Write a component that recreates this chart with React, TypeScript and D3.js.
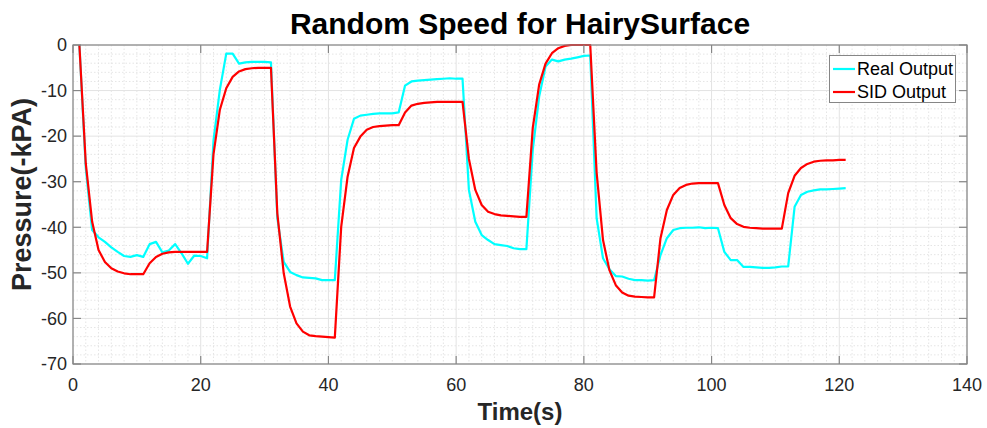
import React from "react";
import * as d3 from "d3";

const title = "Random Speed for HairySurface";
const xLabel = "Time(s)";
const yLabel = "Pressure(-kPA)";
const seriesNames = ["Real Output", "SID Output"];
const seriesColors = ["#00FFFF", "#FF0000"];
const xTicks = [0, 20, 40, 60, 80, 100, 120, 140];
const yTicks = [0, -10, -20, -30, -40, -50, -60, -70];
const startTime = 1;

const realOutput = [
  0, -27, -40.6, -42.2, -43.2, -44.4, -45.4, -46.3, -46.5, -46.1,
  -46.5, -43.7, -43.2, -45.5, -45.1, -43.7, -45.7, -48.0, -46.2, -46.3,
  -46.8, -21, -9.8, -1.9, -1.9, -4.1, -3.8, -3.7, -3.7, -3.7,
  -3.8, -38, -47.6, -49.8, -50.5, -51.0, -51.1, -51.2, -51.6, -51.6,
  -51.6, -29.6, -20.8, -16.2, -15.5, -15.3, -15.1, -15.0, -15.0, -15.0,
  -14.8, -8.9, -8.0, -7.8, -7.7, -7.6, -7.5, -7.4, -7.3, -7.4,
  -7.4, -31.8, -38.8, -41.7, -42.8, -43.7, -43.9, -44.1, -44.6, -44.8,
  -44.8, -23.0, -11.3, -4.7, -3.2, -3.6, -3.2, -3.0, -2.7, -2.4,
  -2.3, -38, -46.8, -49.2, -50.7, -50.8, -51.3, -51.6, -51.6, -51.7,
  -51.6, -46.1, -42.4, -40.6, -40.2, -40.1, -40.1, -40.0, -40.2, -40.1,
  -40.2, -45.4, -47.2, -47.2, -48.7, -48.7, -48.8, -48.9, -48.9, -48.8,
  -48.6, -48.6, -35.5, -32.9, -32.2, -31.9, -31.7, -31.7, -31.6, -31.5,
  -31.4,
];

const sidOutput = [
  0, -26, -38.8, -45, -47.6, -49.0, -49.7, -50.1, -50.3, -50.3,
  -50.3, -47.9, -46.5, -45.8, -45.5, -45.4, -45.4, -45.4, -45.4, -45.4,
  -45.4, -24, -14.2, -9.5, -7.0, -5.8, -5.3, -5.1, -5.0, -5.0,
  -5.0, -37, -50.1, -57.4, -61.1, -62.9, -63.7, -63.9, -64.0, -64.1,
  -64.2, -39.9, -28.9, -22.6, -20.1, -18.6, -18.0, -17.8, -17.7, -17.6,
  -17.6, -14.8, -13.3, -12.9, -12.7, -12.6, -12.5, -12.5, -12.5, -12.5,
  -12.5, -25, -31.8, -35.1, -36.6, -37.1, -37.4, -37.5, -37.6, -37.7,
  -37.7, -18.2, -8.7, -4.1, -1.8, -0.7, -0.2, 0, 0, 0,
  0, -28, -42.8, -49.4, -52.7, -54.3, -55.0, -55.2, -55.3, -55.4,
  -55.4, -42.4, -36.2, -32.9, -31.4, -30.7, -30.4, -30.3, -30.3, -30.3,
  -30.3, -35.1, -38.0, -39.3, -39.9, -40.1, -40.2, -40.3, -40.3, -40.3,
  -40.3, -32.5, -28.7, -27.0, -26.1, -25.6, -25.4, -25.3, -25.3, -25.2,
  -25.2,
];

const W = 987;
const H = 428;
const M = { left: 73, right: 967, top: 45, bottom: 364 };

export default function App() {
  const x = d3.scaleLinear().domain([0, 140]).range([M.left, M.right]);
  const y = d3.scaleLinear().domain([-70, 0]).range([M.bottom, M.top]);
  const line = d3
    .line<number>()
    .x((_, i) => x(startTime + i))
    .y((d) => y(d));

  const xMinor = d3.range(0, 141, 2).filter((v) => v % 20 !== 0);
  const yMinor = d3.range(-70, 1, 2).filter((v) => v % 10 !== 0);
  const font = "'Liberation Sans', Arial, sans-serif";
  const axisColor = "#868686";
  const tickLen = 8;

  return (
    <svg
      width={W}
      height={H}
      style={{ position: "absolute", left: 0, top: 0, background: "#fff" }}
      fontFamily={font}
    >
      <rect x={0} y={0} width={W} height={H} fill="#fff" />
      {/* minor grid */}
      <g stroke="#dedede" strokeWidth={0.8} strokeDasharray="1.5,2">
        {xMinor.map((v) => (
          <line key={"xm" + v} x1={x(v)} x2={x(v)} y1={M.top} y2={M.bottom} />
        ))}
        {yMinor.map((v) => (
          <line key={"ym" + v} x1={M.left} x2={M.right} y1={y(v)} y2={y(v)} />
        ))}
      </g>
      {/* major grid */}
      <g stroke="#e3e3e3" strokeWidth={1}>
        {xTicks.map((v) => (
          <line key={"xg" + v} x1={x(v)} x2={x(v)} y1={M.top} y2={M.bottom} />
        ))}
        {yTicks.map((v) => (
          <line key={"yg" + v} x1={M.left} x2={M.right} y1={y(v)} y2={y(v)} />
        ))}
      </g>
      {/* data */}
      <g fill="none" strokeWidth={2.2} strokeLinejoin="round">
        <path d={line(realOutput) || ""} stroke={seriesColors[0]} />
        <path d={line(sidOutput) || ""} stroke={seriesColors[1]} />
      </g>
      {/* axes box */}
      <rect
        x={M.left}
        y={M.top}
        width={M.right - M.left}
        height={M.bottom - M.top}
        fill="none"
        stroke={axisColor}
        strokeWidth={1.2}
      />
      <g stroke={axisColor} strokeWidth={1.2}>
        {xTicks.map((v) => (
          <g key={"xt" + v}>
            <line x1={x(v)} x2={x(v)} y1={M.bottom} y2={M.bottom - tickLen} />
            <line x1={x(v)} x2={x(v)} y1={M.top} y2={M.top + tickLen} />
          </g>
        ))}
        {yTicks.map((v) => (
          <g key={"yt" + v}>
            <line x1={M.left} x2={M.left + tickLen} y1={y(v)} y2={y(v)} />
            <line x1={M.right} x2={M.right - tickLen} y1={y(v)} y2={y(v)} />
          </g>
        ))}
      </g>
      {/* tick labels */}
      <g fill="#262626" fontSize={18}>
        {xTicks.map((v) => (
          <text key={"xl" + v} x={x(v)} y={M.bottom + 27} textAnchor="middle">
            {v}
          </text>
        ))}
        {yTicks.map((v) => (
          <text
            key={"yl" + v}
            x={M.left - 6}
            y={y(v)}
            dy="0.35em"
            textAnchor="end"
          >
            {v}
          </text>
        ))}
      </g>
      {/* title and labels */}
      <text
        x={(M.left + M.right) / 2}
        y={34}
        textAnchor="middle"
        fontSize={30}
        fontWeight="bold"
        fill="#000"
      >
        {title}
      </text>
      <text
        x={(M.left + M.right) / 2}
        y={420}
        textAnchor="middle"
        fontSize={24}
        fontWeight="bold"
        fill="#262626"
      >
        {xLabel}
      </text>
      <text
        transform={`translate(31, 194.5) rotate(-90)`}
        textAnchor="middle"
        fontSize={27}
        fontWeight="bold"
        fill="#262626"
      >
        {yLabel}
      </text>
      {/* legend */}
      <g>
        <rect
          x={829.5}
          y={55.5}
          width={126}
          height={47}
          fill="#fff"
          stroke={axisColor}
          strokeWidth={1}
        />
        {seriesNames.map((name, i) => (
          <g key={name} transform={`translate(0, ${69 + i * 23})`}>
            <line x1={833} x2={855} y1={0} y2={0} stroke={seriesColors[i]} strokeWidth={2.2} />
            <text x={857} y={0} dy="0.35em" fontSize={18} fill="#000">
              {name}
            </text>
          </g>
        ))}
      </g>
    </svg>
  );
}
